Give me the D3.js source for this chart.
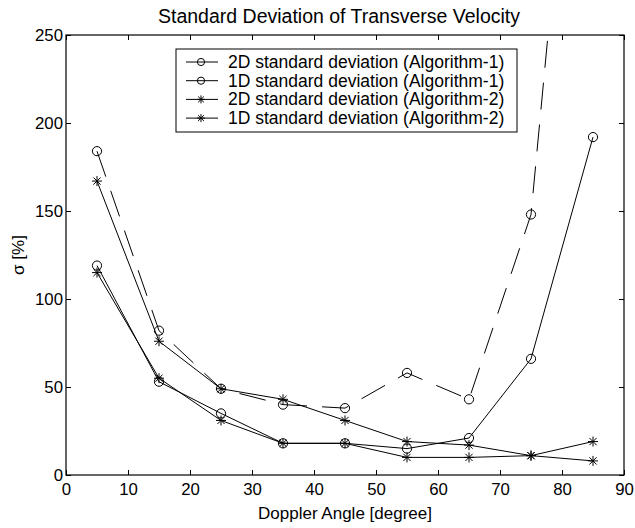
<!DOCTYPE html>
<html><head><meta charset="utf-8">
<script src="https://cdn.jsdelivr.net/npm/d3@7"></script>
<style>
html,body{margin:0;padding:0;background:#fff;}
text{font-family:"Liberation Sans",Arial,Helvetica,sans-serif;fill:#000;}
</style></head>
<body>
<svg id="chart" width="635" height="528"></svg>
<script>
const angles = [5, 15, 25, 35, 45, 55, 65, 75, 85];
const alg1_2D = [184, 82, 49, 40, 38, 58, 43, 148, 520];
const alg1_1D = [119, 53, 35, 18, 18, 15, 21, 66, 192];
const alg2_2D = [167, 76, 49, 43, 31, 19, 17, 11, 19];
const alg2_1D = [115, 55, 31, 18, 18, 10, 10, 11, 8];
const seriesNames = [
  "2D standard deviation (Algorithm-1)",
  "1D standard deviation (Algorithm-1)",
  "2D standard deviation (Algorithm-2)",
  "1D standard deviation (Algorithm-2)"
];
const xTicks = [0, 10, 20, 30, 40, 50, 60, 70, 80, 90];
const yTicks = [0, 50, 100, 150, 200, 250];
const titleText = "Standard Deviation of Transverse Velocity";
const xLabel = "Doppler Angle [degree]";
const yLabel = "\u03c3 [%]";

const series = [
  {name: seriesNames[0], values: alg1_2D, marker: "circle", dash: "27,15"},
  {name: seriesNames[1], values: alg1_1D, marker: "circle", dash: null},
  {name: seriesNames[2], values: alg2_2D, marker: "star", dash: null},
  {name: seriesNames[3], values: alg2_1D, marker: "star", dash: null}
];

const L = 66, R = 624, T = 35, B = 475;
const svg = d3.select("#chart");
const x = d3.scaleLinear().domain([0, 90]).range([L, R]);
const y = d3.scaleLinear().domain([0, 250]).range([B, T]);

svg.append("defs").append("clipPath").attr("id", "clip")
  .append("rect").attr("x", L).attr("y", T).attr("width", R - L).attr("height", B - T);

const fs = 17, tfs = 16.8;
// axes
const ax = svg.append("g").attr("transform", `translate(0,${B})`)
  .call(d3.axisBottom(x).tickValues(xTicks).tickSize(-5).tickPadding(8));
const axT = svg.append("g").attr("transform", `translate(0,${T})`)
  .call(d3.axisTop(x).tickValues(xTicks).tickSize(-5).tickFormat(""));
const ay = svg.append("g").attr("transform", `translate(${L},0)`)
  .call(d3.axisLeft(y).tickValues(yTicks).tickSize(-5).tickPadding(3));
const ayR = svg.append("g").attr("transform", `translate(${R},0)`)
  .call(d3.axisRight(y).tickValues(yTicks).tickSize(-5).tickFormat(""));
[ax, axT, ay, ayR].forEach(g => {
  g.select(".domain").remove();
  g.selectAll(".tick line").attr("stroke", "#000").attr("stroke-width", 1);
  g.selectAll(".tick text").attr("font-size", tfs).attr("font-family", "Liberation Sans, Arial, sans-serif").attr("fill", "#000");
});
svg.append("rect").attr("x", L).attr("y", T).attr("width", R - L).attr("height", B - T)
  .attr("fill", "none").attr("stroke", "#000").attr("stroke-width", 1.2);

// title & labels
svg.append("text").attr("x", 339).attr("y", 23).attr("text-anchor", "middle")
  .attr("font-size", 19.5).text(titleText);
svg.append("text").attr("x", (L + R) / 2).attr("y", 519).attr("text-anchor", "middle")
  .attr("font-size", fs).text(xLabel);
svg.append("text").attr("transform", `translate(24,${(T + B) / 2}) rotate(-90)`).attr("text-anchor", "middle")
  .attr("font-size", fs).text(yLabel);

const line = d3.line().x((d, i) => x(angles[i])).y(d => y(d));
const starPath = r => {
  const k = r * 0.72;
  return `M${-r},0L${r},0M0,${-r}L0,${r}M${-k},${-k}L${k},${k}M${-k},${k}L${k},${-k}`;
};
function drawMarker(g, type, cx, cy, sz) {
  if (type === "circle") {
    g.append("circle").attr("cx", cx).attr("cy", cy).attr("r", sz)
      .attr("fill", "none").attr("stroke", "#000").attr("stroke-width", 1);
  } else {
    g.append("path").attr("transform", `translate(${cx},${cy})`).attr("d", starPath(sz + 0.4))
      .attr("fill", "none").attr("stroke", "#000").attr("stroke-width", 1);
  }
}
const plot = svg.append("g").attr("clip-path", "url(#clip)");
series.forEach(s => {
  plot.append("path").datum(s.values).attr("d", line)
    .attr("fill", "none").attr("stroke", "#000").attr("stroke-width", 1)
    .attr("stroke-dasharray", s.dash);
  s.values.forEach((v, i) => drawMarker(plot, s.marker, x(angles[i]), y(v), 4.6));
});

// legend
const lg = svg.append("g");
const lx = 176, ly = 49, lw = 341, lh = 83;
lg.append("rect").attr("x", lx).attr("y", ly).attr("width", lw).attr("height", lh)
  .attr("fill", "#fff").attr("stroke", "#000").attr("stroke-width", 1);
series.forEach((s, i) => {
  const yy = ly + 13 + i * 18.7;
  lg.append("line").attr("x1", lx + 10).attr("x2", lx + 42).attr("y1", yy).attr("y2", yy)
    .attr("stroke", "#000").attr("stroke-width", 1);
  drawMarker(lg, s.marker, lx + 25, yy, 3.6);
  lg.append("text").attr("x", lx + 52).attr("y", yy + 6).attr("font-size", 17.5).text(s.name);
});
</script>
</body></html>
